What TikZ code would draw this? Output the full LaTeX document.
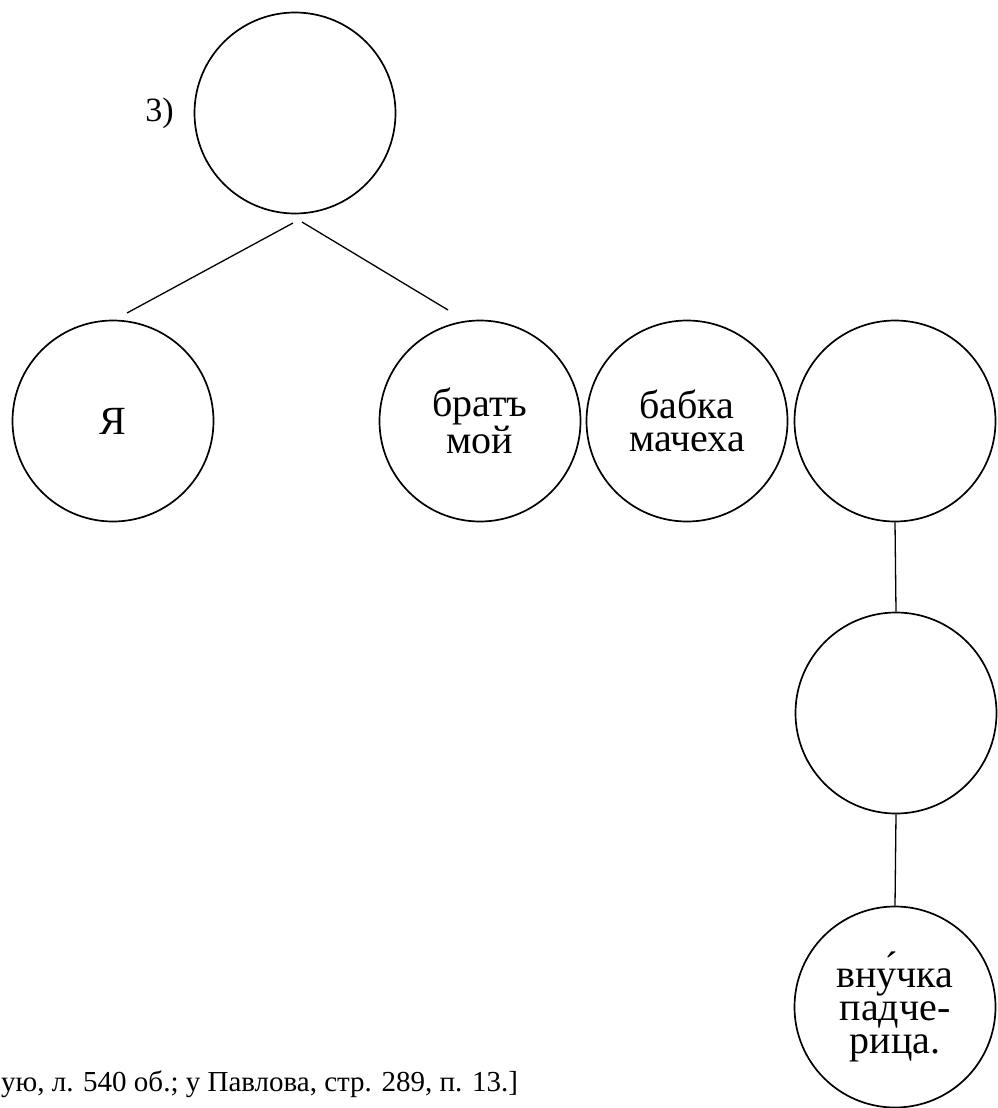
\documentclass[tikz,border=0pt]{standalone}
\usepackage{fontspec}
\setmainfont{Liberation Serif}
\begin{document}
\begin{tikzpicture}[x=1pt,y=-1pt,
  person/.style={circle,draw,line width=1.7pt,inner sep=0pt,minimum size=201pt,
    align=center,font=\fontsize{40}{33}\selectfont},
  link/.style={line width=1.3pt},
  lbl/.style={inner sep=0pt,font=\fontsize{34}{38}\selectfont},
  note/.style={inner sep=0pt,font=\fontsize{29}{34}\selectfont}]
\useasboundingbox (0,0) rectangle (997,1108);
\node[person] (top) at (295,113) {};
\node[person] (ya) at (113,421) {Я};
\node[person] (brat) at (480,421) {братъ\\мой};
\node[person] (babka) at (687,421) {бабка\\мачеха};
\node[person] (c4) at (895,421) {};
\node[person] (c5) at (896,713) {};
\node[person] (c6) at (895,1007) {вну́чка\\падче-\\рица.};
\node[lbl,anchor=base east] (num) at (174,121) {3)};
\node[note,anchor=base west] (foot) at (1,1091) {ую, л. 540 об.; у Павлова, стр. 289, п. 13.]};
\coordinate (l1) at (293,223);
\coordinate (l2) at (127,313);
\coordinate (r1) at (302,222);
\coordinate (r2) at (448,310);
\draw[link] (l1) -- (l2);
\draw[link] (r1) -- (r2);
\draw[link] (c4.south) -- (c5.north);
\draw[link] (c5.south) -- (c6.north);
\end{tikzpicture}
\end{document}
